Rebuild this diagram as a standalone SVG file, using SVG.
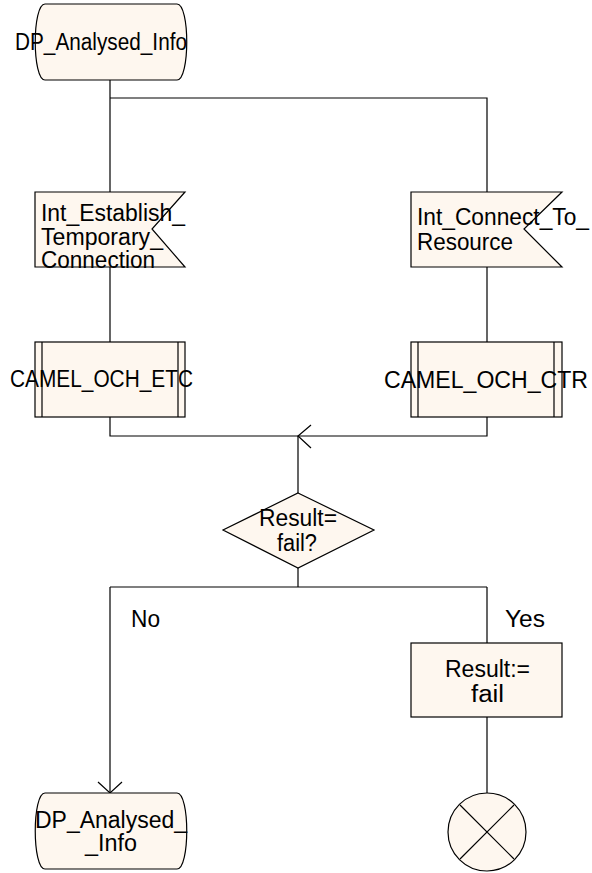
<svg xmlns="http://www.w3.org/2000/svg" width="592" height="873" viewBox="0 0 592 873">
<style>
.n{fill:#FEF7EF;stroke:#000;stroke-width:1.2}
.c{fill:none;stroke:#000;stroke-width:1.2}
text{font-family:"Liberation Sans",Arial,sans-serif;font-size:23px;fill:#000}
</style>
<rect width="592" height="873" fill="#fff"/>
<g id="connectors">
<path class="c" d="M110,80V192M110,98H487V192M110,267V342M487,267V342M110,417V436H487V417M298,436V493M298,568V587M110,587H487M110,587V793M487,587V643M487,717V793"/>
<path class="c" d="M311,425L298,436L311,448M98,782L110,793L122,782"/>
</g>
<g id="start">
<path class="n" d="M45,4H177C190,4 190,80 177,80H45C32,80 32,4 45,4Z"/>
<text x="15" y="50" textLength="172" lengthAdjust="spacingAndGlyphs">DP_Analysed_Info</text>
</g>
<g id="sig_etc">
<path class="n" d="M35,192H185L152,229L185,267H35Z"/>
<text x="41" y="221" textLength="144" lengthAdjust="spacingAndGlyphs">Int_Establish_</text>
<text x="41" y="245" textLength="122" lengthAdjust="spacingAndGlyphs">Temporary_</text>
<text x="41" y="268" textLength="114" lengthAdjust="spacingAndGlyphs">Connection</text>
</g>
<g id="sig_ctr">
<path class="n" d="M411,192H562L524,229L562,267H411Z"/>
<text x="417" y="225" textLength="172" lengthAdjust="spacingAndGlyphs">Int_Connect_To_</text>
<text x="417" y="250" textLength="96" lengthAdjust="spacingAndGlyphs">Resource</text>
</g>
<g id="proc_etc">
<rect class="n" x="35" y="342" width="150" height="75"/>
<path class="c" d="M42,342V417M178,342V417"/>
<text x="10" y="387" textLength="183" lengthAdjust="spacingAndGlyphs">CAMEL_OCH_ETC</text>
</g>
<g id="proc_ctr">
<rect class="n" x="411" y="342" width="151" height="75"/>
<path class="c" d="M418,342V417M554,342V417"/>
<text x="384" y="388" textLength="204" lengthAdjust="spacingAndGlyphs">CAMEL_OCH_CTR</text>
</g>
<g id="decision">
<path class="n" d="M298,493L374,530L298,568L223,530Z"/>
<text x="259" y="526" textLength="78" lengthAdjust="spacingAndGlyphs">Result=</text>
<text x="277" y="551" textLength="40" lengthAdjust="spacingAndGlyphs">fail?</text>
</g>
<g id="labels">
<text x="131" y="627" textLength="29" lengthAdjust="spacingAndGlyphs">No</text>
<text x="505" y="627" textLength="40" lengthAdjust="spacingAndGlyphs">Yes</text>
</g>
<g id="task">
<rect class="n" x="411" y="643" width="151" height="74"/>
<text x="445" y="677" textLength="85" lengthAdjust="spacingAndGlyphs">Result:=</text>
<text x="471" y="702" textLength="33" lengthAdjust="spacingAndGlyphs">fail</text>
</g>
<g id="end_next">
<path class="n" d="M45,793H177C190,793 190,869 177,869H45C32,869 32,793 45,793Z"/>
<text x="35" y="828" textLength="152" lengthAdjust="spacingAndGlyphs">DP_Analysed_</text>
<text x="85" y="851" textLength="52" lengthAdjust="spacingAndGlyphs">_Info</text>
</g>
<g id="stop">
<circle class="n" cx="487" cy="832" r="39"/>
<path class="c" d="M460,805L514,859M514,805L460,859"/>
</g>
</svg>
